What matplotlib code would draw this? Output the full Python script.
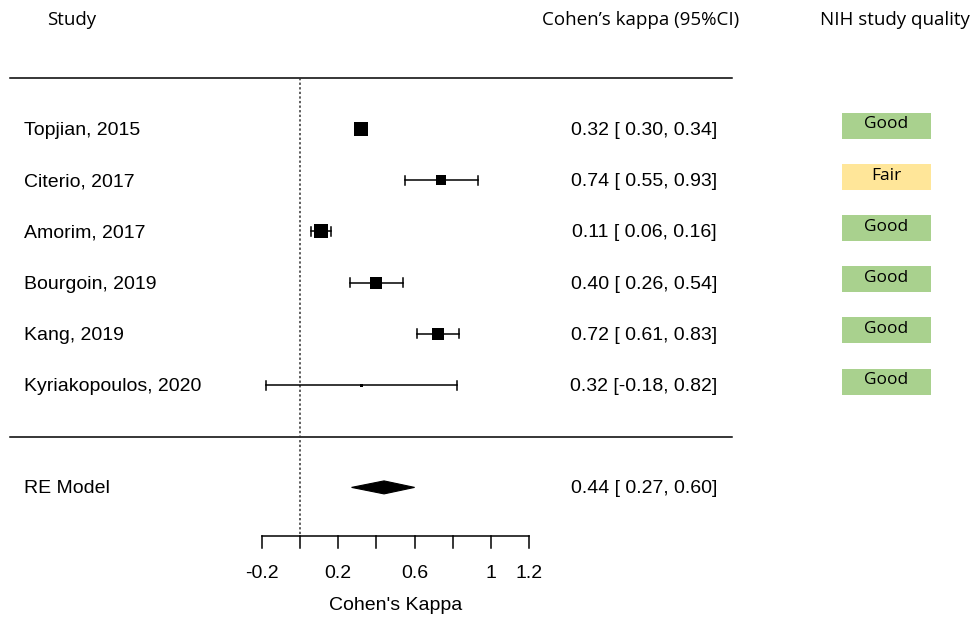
import matplotlib
matplotlib.use("Agg")
import matplotlib.pyplot as plt
from matplotlib.patches import Polygon, Rectangle

# study data
studies = ["Topjian, 2015", "Citerio, 2017", "Amorim, 2017",
           "Bourgoin, 2019", "Kang, 2019", "Kyriakopoulos, 2020"]
kappa = [0.32, 0.74, 0.11, 0.40, 0.72, 0.32]
ci_low = [0.30, 0.55, 0.06, 0.26, 0.61, -0.18]
ci_high = [0.34, 0.93, 0.16, 0.54, 0.83, 0.82]
weights = [19.8, 14.2, 19.2, 16.6, 16.6, 4.0]
quality = ["Good", "Fair", "Good", "Good", "Good", "Good"]

re_label = "RE Model"
re_est, re_low, re_high = 0.44, 0.27, 0.60

xticks = [-0.2, 0.0, 0.2, 0.4, 0.6, 0.8, 1.0, 1.2]
xtick_labels = ["-0.2", "", "0.2", "", "0.6", "", "1", "1.2"]

quality_colors = {"Good": "#a9d18e", "Fair": "#ffe699"}

W, H = 974, 617
X0, XS = 300, 191.0      # pixel of kappa 0, pixels per kappa unit
Y0, YS = 129, 51.2       # pixel of first row, pixels per row


def px(p):
    return (p - X0) / XS


def py(p):
    return (p - Y0) / YS


fig = plt.figure(figsize=(W / 100, H / 100), dpi=100)
ax = fig.add_axes([0, 0, 1, 1])
ax.set_xlim(px(0), px(W))
ax.set_ylim(py(H), py(0))
ax.axis("off")

arial = "Liberation Sans"
calibri = "Open Sans"
fs = 14
toff = 1.5 / YS   # nudge text down a bit to sit on the row centre

# headers
ax.text(px(72), py(20), "Study", ha="center", va="center", fontsize=13.5, family=calibri)
ax.text(px(641), py(20), "Cohen\u2019s kappa (95%CI)", ha="center", va="center",
        fontsize=13.5, family=calibri)
ax.text(px(895), py(20), "NIH study quality", ha="center", va="center",
        fontsize=13.5, family=calibri)

# separating lines
for yl in (78, 437):
    ax.plot([px(10), px(732)], [py(yl), py(yl)], color="black", lw=1.1)

# reference line at 0
ax.plot([0, 0], [py(78), py(536)], color="#333333", lw=1.1, ls=(0, (1.5, 1.5)))

# studies
wmin, wmax = min(weights), max(weights)
cap = 4.5 / YS
for i, name in enumerate(studies):
    ax.text(px(24), i + toff, name, ha="left", va="center", fontsize=fs, family=arial)
    ax.plot([ci_low[i], ci_high[i]], [i, i], color="black", lw=1.1)
    for c in (ci_low[i], ci_high[i]):
        ax.plot([c, c], [i - cap, i + cap], color="black", lw=1.1)
    side = 3 + 11 * (weights[i] - wmin) / (wmax - wmin)
    ax.plot(kappa[i], i, marker="s", color="black", markersize=side * 0.72, mew=0)
    txt = f"{kappa[i]:.2f} [{ci_low[i]:5.2f}, {ci_high[i]:.2f}]"
    ax.text(px(717), i + toff, txt, ha="right", va="center", fontsize=fs, family=arial)
    # quality box
    by = i - 3.5 / YS
    ax.add_patch(Rectangle((px(842), by - 13 / YS), 89 / XS, 26 / YS,
                           facecolor=quality_colors[quality[i]], edgecolor="none"))
    ax.text(px(886), by - 1 / YS, quality[i], ha="center", va="center",
            fontsize=12.5, family=calibri)

# summary diamond
re_row = 7
dh = 6.5 / YS
ax.add_patch(Polygon([(re_low, re_row), (re_est, re_row - dh),
                      (re_high, re_row), (re_est, re_row + dh)],
                     closed=True, facecolor="black", edgecolor="black", lw=0.8))
ax.text(px(24), re_row + toff, re_label, ha="left", va="center", fontsize=fs, family=arial)
ax.text(px(717), re_row + toff, f"{re_est:.2f} [{re_low:5.2f}, {re_high:.2f}]",
        ha="right", va="center", fontsize=fs, family=arial)

# x axis
ya = py(536)
ax.plot([xticks[0], xticks[-1]], [ya, ya], color="black", lw=1.1)
for t, lab in zip(xticks, xtick_labels):
    ax.plot([t, t], [ya, py(548)], color="black", lw=1.1)
    if lab:
        ax.text(t, py(573), lab, ha="center", va="center", fontsize=fs, family=arial)
ax.text((xticks[0] + xticks[-1]) / 2, py(606), "Cohen's Kappa", ha="center",
        va="center", fontsize=fs, family=arial)

fig.savefig("out.png", dpi=100)
